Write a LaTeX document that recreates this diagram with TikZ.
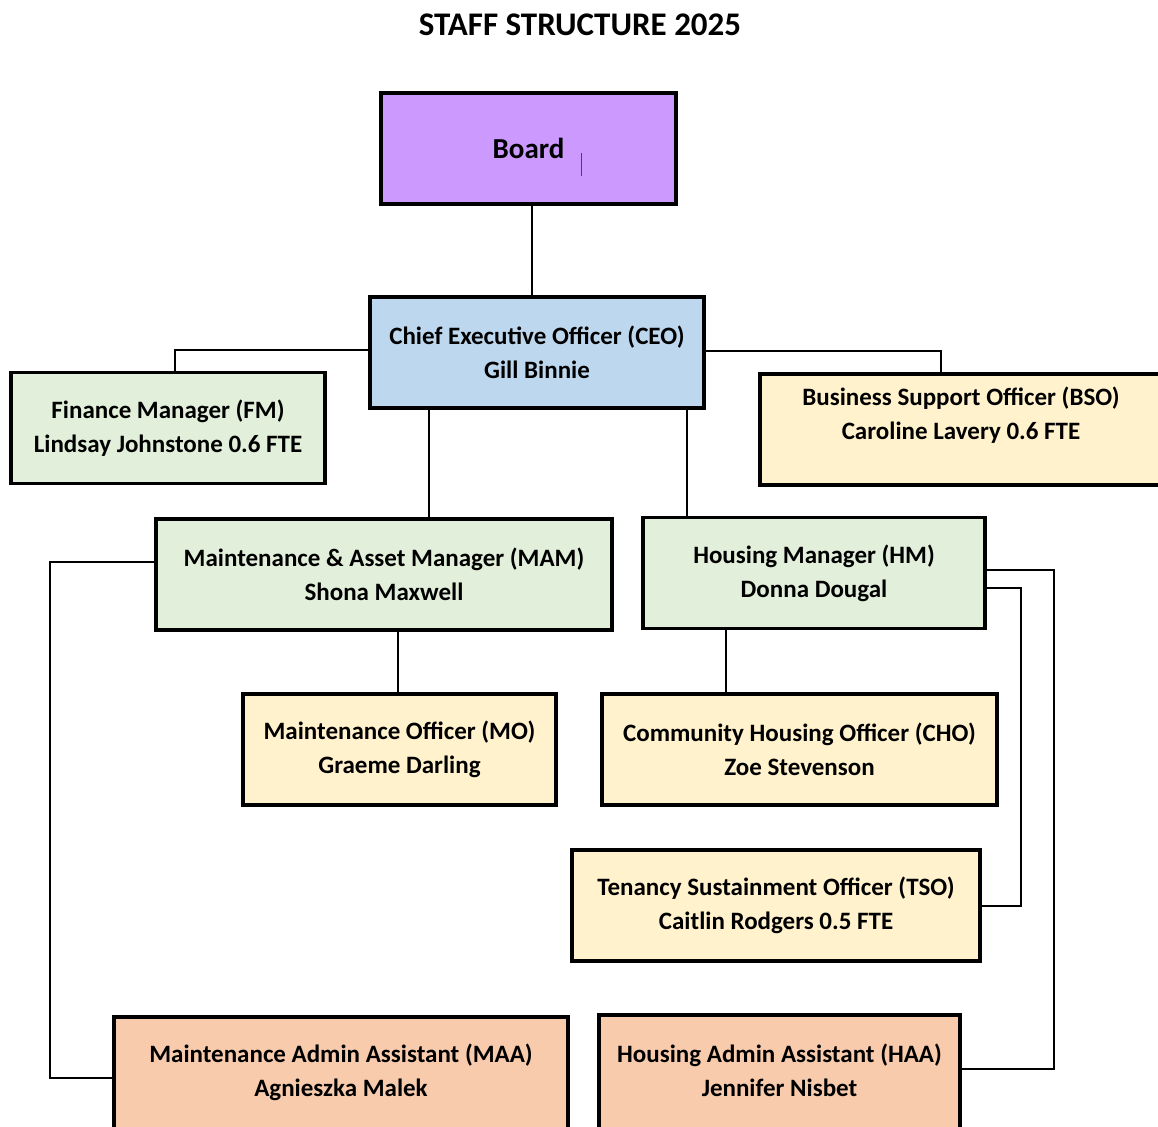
\documentclass[tikz,border=0pt]{standalone}
\usepackage{fontspec}
\setmainfont{Carlito}
\usepackage{tikz}

\definecolor{boardpurple}{HTML}{CC99FF}
\definecolor{ceoblue}{HTML}{BDD7EE}
\definecolor{mgrgreen}{HTML}{E2EFDA}
\definecolor{offyellow}{HTML}{FFF2CC}
\definecolor{adminpeach}{HTML}{F8CBAD}
\definecolor{cursorgreen}{HTML}{385623}

\begin{document}
\begin{tikzpicture}[x=1pt,y=-1pt,
		rolefont/.style={font=\bfseries\fontsize{25}{34}\selectfont},
		role/.style={draw,line width=3.5pt,align=center,minimum height=111pt,
			rolefont,inner sep=0pt},
		link/.style={line width=2pt}]
				\clip (0,0) rectangle (1158,1126);
				\useasboundingbox (0,0) rectangle (1158,1126);
				% title
				\node[font=\bfseries\fontsize{33}{38}\selectfont] (title) at (580,25) {STAFF STRUCTURE 2025};
				% boxes
				\node[role,fill=boardpurple,minimum width=295pt,font=\bfseries\fontsize{29}{34}\selectfont] (board) at (528.5,148.5) {Board};
				\draw[line width=1pt,cursorgreen] (581,153) -- (581,176);
				\node[role,fill=ceoblue,minimum width=334pt] (ceo) at (537,352.5) {Chief Executive Officer (CEO)\\Gill Binnie};
				\node[role,fill=mgrgreen,minimum width=314pt] (fm) at (168,428) {Finance Manager (FM)\\Lindsay Johnstone 0.6 FTE};
				\node[role,fill=offyellow,minimum width=402pt,
					label={[align=center,yshift=14pt,rolefont]center:Business Support Officer (BSO)\\Caroline Lavery 0.6 FTE}] (bso) at (961,429.5) {};
				\node[role,fill=mgrgreen,minimum width=456pt] (mam) at (384,574.5) {Maintenance \& Asset Manager (MAM)\\Shona Maxwell};
				\node[role,fill=mgrgreen,minimum width=342pt] (hm) at (814,573) {Housing Manager (HM)\\Donna Dougal};
				\node[role,fill=offyellow,minimum width=313pt] (mo) at (399.5,749.5) {Maintenance Officer (MO)\\Graeme Darling};
				\node[role,fill=offyellow,minimum width=395pt] (cho) at (799.5,749.5) {Community Housing Officer (CHO)\\Zoe Stevenson};
				\node[role,fill=offyellow,minimum width=408pt] (tso) at (776,905.5) {Tenancy Sustainment Officer (TSO)\\Caitlin Rodgers 0.5 FTE};
				\node[role,fill=adminpeach,minimum width=454pt,minimum height=131pt,
					label={[align=center,yshift=10pt,rolefont]center:Maintenance Admin Assistant (MAA)\\Agnieszka Malek}] (maa) at (341,1082.5) {};
				\node[role,fill=adminpeach,minimum width=361pt,minimum height=131pt,
					label={[align=center,yshift=10pt,rolefont]center:Housing Admin Assistant (HAA)\\Jennifer Nisbet}] (haa) at (779.5,1080.5) {};
				% lines
				\draw[link] ([xshift=3pt]board.south) -- ([xshift=3pt]board.south |- ceo.north);
				\draw[link] ([yshift=3pt]ceo.west) -| ([xshift=7pt]fm.north);
				\draw[link] ([yshift=2pt]ceo.east) -| ([xshift=-20pt]bso.north);
				\draw[link] ([xshift=-108pt]ceo.south) -- ([xshift=-108pt]ceo.south |- mam.north);
				\draw[link] ([xshift=150pt]ceo.south) -- ([xshift=150pt]ceo.south |- hm.north);
				\draw[link] ([xshift=14pt]mam.south) -- ([xshift=14pt]mam.south |- mo.north);
				\draw[link] ([xshift=-88pt]hm.south) -- ([xshift=-88pt]hm.south |- cho.north);
				\draw[link] ([yshift=3pt]hm.east) -- ++(67,0) |- ([yshift=12pt]haa.east);
				\draw[link] ([yshift=-15pt]hm.east) -- ++(34,0) |- (tso.east);
				\draw[link] ([yshift=13pt]mam.west) -- ++(-104,0) |- ([yshift=5pt]maa.west);
			\end{tikzpicture}
\end{document}
